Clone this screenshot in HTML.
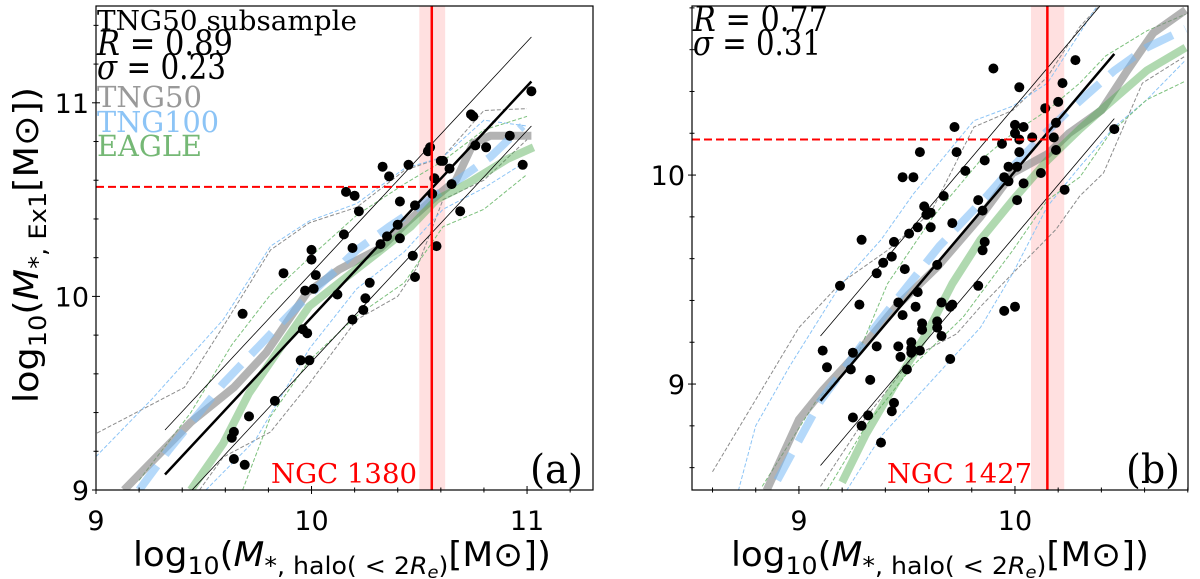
<!DOCTYPE html>
<html><head><meta charset="utf-8">
<style>
html,body{margin:0;padding:0;background:#fff;}
svg{display:block;}
text{font-family:"DejaVu Sans","Liberation Sans",sans-serif;}
.serif{font-family:"DejaVu Serif","Liberation Serif",serif;}
</style></head>
<body>
<svg id="fig" width="1200" height="579" viewBox="0 0 1200 579" xmlns="http://www.w3.org/2000/svg">
<defs>
<clipPath id="clipA"><rect x="96" y="6" width="497" height="484"/></clipPath>
<clipPath id="clipB"><rect x="692" y="6" width="496" height="484"/></clipPath>
</defs>
<g id="panelA"></g>
<g id="panelB"></g>

<text transform="translate(38,245) rotate(-90)" text-anchor="middle" font-size="34" textLength="316" lengthAdjust="spacingAndGlyphs">log<tspan font-size="24" dy="8">10</tspan><tspan dy="-8">(</tspan><tspan font-style="italic">M</tspan><tspan font-size="24" dy="8">*, Ex1</tspan><tspan dy="-8">[M⊙])</tspan></text>
<text x="342" y="566" text-anchor="middle" font-size="34" textLength="418" lengthAdjust="spacingAndGlyphs">log<tspan font-size="24" dy="8">10</tspan><tspan dy="-8">(</tspan><tspan font-style="italic">M</tspan><tspan font-size="24" dy="8">*, halo( &lt; 2</tspan><tspan font-size="24" font-style="italic">R</tspan><tspan font-size="17" font-style="italic" dy="4">e</tspan><tspan font-size="24" dy="-4">)</tspan><tspan dy="-8">[M⊙])</tspan></text>
<text x="940" y="566" text-anchor="middle" font-size="34" textLength="418" lengthAdjust="spacingAndGlyphs">log<tspan font-size="24" dy="8">10</tspan><tspan dy="-8">(</tspan><tspan font-style="italic">M</tspan><tspan font-size="24" dy="8">*, halo( &lt; 2</tspan><tspan font-size="24" font-style="italic">R</tspan><tspan font-size="17" font-style="italic" dy="4">e</tspan><tspan font-size="24" dy="-4">)</tspan><tspan dy="-8">[M⊙])</tspan></text>

<g class="serif">
<text class="serif" x="97" y="30" font-size="27" textLength="260" lengthAdjust="spacingAndGlyphs">TNG50 subsample</text>
<text class="serif" x="97" y="55" font-size="35" textLength="136" lengthAdjust="spacingAndGlyphs"><tspan font-style="italic">R</tspan> = 0.89</text>
<text class="serif" x="97" y="79" font-size="35" textLength="129" lengthAdjust="spacingAndGlyphs"><tspan font-style="italic">σ</tspan> = 0.23</text>
<text class="serif" x="97" y="107" font-size="29" fill="#999999" textLength="105" lengthAdjust="spacingAndGlyphs">TNG50</text>
<text class="serif" x="97" y="132" font-size="29" fill="#8cc4f6" textLength="122" lengthAdjust="spacingAndGlyphs">TNG100</text>
<text class="serif" x="97" y="156" font-size="29" fill="#75b875" textLength="105" lengthAdjust="spacingAndGlyphs">EAGLE</text>
<text class="serif" x="271" y="483" font-size="27" fill="#ff0000" textLength="146" lengthAdjust="spacingAndGlyphs">NGC 1380</text>
<text class="serif" x="530" y="483" font-size="40" textLength="53" lengthAdjust="spacingAndGlyphs">(a)</text>
</g>
<g>
<text class="serif" x="693" y="31" font-size="35" textLength="135" lengthAdjust="spacingAndGlyphs"><tspan font-style="italic">R</tspan> = 0.77</text>
<text class="serif" x="693" y="55" font-size="35" textLength="128" lengthAdjust="spacingAndGlyphs"><tspan font-style="italic">σ</tspan> = 0.31</text>
<text class="serif" x="887" y="483" font-size="27" fill="#ff0000" textLength="145" lengthAdjust="spacingAndGlyphs">NGC 1427</text>
<text class="serif" x="1126" y="483" font-size="40" textLength="54" lengthAdjust="spacingAndGlyphs">(b)</text>
</g>
</svg>
<script>
// ---------- Panel A data ----------
const aPtsX = [11.02,10.74,10.75,10.92,10.76,10.81,10.98,10.55,10.54,10.61,10.60,10.64,10.57,10.65,10.56,10.69,10.58,10.33,10.45,10.36,10.16,10.20,10.22,10.41,10.48,10.40,10.35,10.41,10.32,10.19,10.15,10.00,10.00,10.02,9.97,10.01,10.12,10.27,10.25,10.24,10.19,10.47,10.48,9.87,9.68,9.96,9.98,9.95,9.99,9.83,9.71,9.64,9.63,9.64,9.69];
const aPtsY = [11.06,10.94,10.93,10.83,10.78,10.77,10.68,10.77,10.75,10.70,10.70,10.66,10.61,10.58,10.53,10.44,10.26,10.67,10.68,10.62,10.54,10.52,10.44,10.49,10.47,10.37,10.31,10.30,10.27,10.25,10.32,10.24,10.19,10.11,10.03,10.04,10.01,10.07,9.99,9.93,9.88,10.21,10.10,10.12,9.91,9.83,9.81,9.67,9.67,9.46,9.38,9.30,9.27,9.16,9.13];
const aTng50X = [9.13,9.28,9.44,9.64,9.79,9.98,10.13,10.32,10.44,10.56,10.67,10.75,10.83,11.02];
const aTng50Y = [9.00,9.17,9.35,9.53,9.71,10.02,10.14,10.25,10.38,10.50,10.60,10.79,10.83,10.83];
const aTng100X = [9.20,9.34,9.59,9.90,10.21,10.36,10.52,10.64,10.83,10.98];
const aTng100Y = [9.00,9.21,9.55,9.91,10.24,10.36,10.48,10.57,10.72,10.88];
const aEagleX = [9.44,9.59,9.71,9.84,9.99,10.15,10.30,10.46,10.58,10.67,10.75,10.91,11.03];
const aEagleY = [9.00,9.24,9.50,9.71,9.95,10.09,10.22,10.36,10.50,10.55,10.60,10.71,10.77];
const aTng50HiX = [8.98,9.41,9.61,9.81,9.99,10.21,10.43,10.61,10.80,11.00];
const aTng50HiY = [9.28,9.53,9.88,10.24,10.38,10.46,10.65,10.72,10.96,10.97];
const aTng100HiX = [8.98,9.26,9.59,9.81,9.99,10.21,10.43,10.61,10.80,11.00];
const aTng100HiY = [9.15,9.47,9.88,10.26,10.39,10.48,10.66,10.72,10.91,10.88];
const aEagleHiX = [9.20,9.44,9.63,9.81,9.99,10.21,10.43,10.61,10.80,11.00];
const aEagleHiY = [9.05,9.40,9.75,10.01,10.20,10.42,10.58,10.70,10.86,10.93];
const aTng50LoX = [9.48,9.59,9.81,9.99,10.21,10.40,10.49,10.61,10.80,11.00];
const aTng50LoY = [9.00,9.17,9.30,9.55,9.88,10.00,10.15,10.50,10.60,10.81];
const aTng100LoX = [9.51,9.74,9.99,10.21,10.43,10.61,10.80,11.00];
const aTng100LoY = [9.00,9.26,9.73,10.04,10.23,10.45,10.56,10.70];
const aEagleLoX = [9.68,9.81,9.99,10.21,10.43,10.61,10.80,11.00];
const aEagleLoY = [9.00,9.38,9.67,9.90,10.07,10.36,10.45,10.63];
const aFitX = [9.32,11.02];
const aFitY = [9.08,11.11];
const aFitScatter = 0.23;
const aRef = {x:10.558, xlo:10.50, xhi:10.62, y:10.566};
const aXTicks = [9,10,11];
const aYTicks = [9,10,11];

// ---------- Panel B data ----------
const bPtsX = [10.28,9.90,10.02,10.22,10.14,10.20,10.00,10.04,10.00,10.02,10.08,10.19,10.18,10.19,9.72,9.94,10.02,9.73,9.86,9.56,9.77,9.48,9.53,9.97,10.01,9.95,9.97,10.04,10.12,10.23,10.46,9.67,9.83,10.01,9.85,9.58,9.59,9.61,9.55,9.61,9.71,9.51,9.29,9.44,9.43,9.39,9.36,9.49,9.64,9.86,9.85,9.19,9.83,9.55,9.28,9.46,9.66,9.70,9.71,9.54,9.48,9.95,10.00,9.57,9.57,9.64,9.64,9.66,9.36,9.46,9.52,9.52,9.52,9.56,9.47,9.70,9.11,9.25,9.13,9.24,9.50,9.33,9.44,9.43,9.25,9.32,9.29,9.38];
const bPtsY = [10.55,10.51,10.42,10.44,10.32,10.35,10.24,10.23,10.20,10.17,10.18,10.25,10.18,10.12,10.23,10.15,10.11,10.11,10.07,10.11,10.02,9.99,9.99,10.04,10.04,9.99,9.97,9.96,10.01,9.93,10.22,9.90,9.88,9.88,9.83,9.85,9.81,9.82,9.75,9.75,9.77,9.72,9.69,9.68,9.61,9.58,9.53,9.55,9.57,9.68,9.64,9.47,9.47,9.44,9.38,9.39,9.39,9.37,9.38,9.37,9.33,9.35,9.37,9.29,9.26,9.30,9.27,9.23,9.18,9.18,9.20,9.17,9.15,9.16,9.13,9.12,9.16,9.15,9.08,9.07,9.07,9.02,8.91,8.87,8.84,8.85,8.80,8.72];
const bTng50X = [8.85,9.00,9.11,9.28,9.45,9.64,9.84,9.99,10.15,10.25,10.40,10.52,10.64,10.79];
const bTng50Y = [8.49,8.83,8.97,9.16,9.37,9.56,9.80,10.01,10.10,10.20,10.31,10.50,10.68,10.79];
const bTng100X = [8.90,9.10,9.38,9.65,9.87,9.99,10.12,10.24,10.46,10.61,10.79];
const bTng100Y = [8.54,8.92,9.31,9.66,9.90,10.04,10.18,10.30,10.50,10.61,10.70];
const bEagleX = [9.20,9.31,9.44,9.59,9.71,9.84,9.99,10.15,10.30,10.42,10.61,10.79];
const bEagleY = [8.53,8.76,8.99,9.24,9.48,9.69,9.88,10.07,10.22,10.33,10.50,10.61];
const bTng50HiX = [8.60,9.00,9.19,9.41,9.61,9.81,9.99,10.15,10.30,10.39];
const bTng50HiY = [8.58,9.27,9.48,9.64,9.82,10.23,10.31,10.47,10.71,10.81];
const bTng100HiX = [8.72,8.80,8.96,9.19,9.38,9.53,9.81,9.99,10.15,10.30,10.38];
const bTng100HiY = [8.49,8.80,9.09,9.47,9.69,9.91,10.26,10.33,10.44,10.68,10.81];
const bEagleHiX = [8.83,9.08,9.26,9.41,9.62,9.84,9.99,10.15,10.30,10.42,10.61,10.79];
const bEagleHiY = [8.51,8.92,9.11,9.48,9.80,10.07,10.20,10.31,10.44,10.57,10.69,10.77];
const bTng50LoX = [9.10,9.31,9.53,9.73,9.84,9.99,10.19,10.30,10.41,10.59,10.79];
const bTng50LoY = [8.51,8.84,9.13,9.24,9.37,9.53,9.74,9.90,10.01,10.44,10.57];
const bTng100LoX = [9.22,9.38,9.68,9.84,9.99,10.15,10.30,10.46,10.61,10.79];
const bTng100LoY = [8.49,8.75,9.09,9.27,9.53,9.85,10.04,10.23,10.36,10.55];
const bEagleLoX = [9.13,9.31,9.53,9.76,9.99,10.15,10.30,10.44,10.61,10.79];
const bEagleLoY = [8.49,8.80,9.09,9.32,9.64,9.88,9.99,10.20,10.36,10.45];
const bFitX = [9.10,10.46];
const bFitY = [8.92,10.58];
const bFitScatter = 0.31;
const bRef = {x:10.15, xlo:10.074, xhi:10.228, y:10.17};
const bXTicks = [9,10];
const bYTicks = [9,10];

const NS = "http://www.w3.org/2000/svg";
function mk(parent, tag, attrs){
  const e = document.createElementNS(NS, tag);
  for (const k in attrs) e.setAttribute(k, attrs[k]);
  parent.appendChild(e);
  return e;
}

function drawPanel(g, cfg){
  const sx = v => cfg.L + (v - cfg.x0) / (cfg.x1 - cfg.x0) * (cfg.R - cfg.L);
  const sy = v => cfg.B - (v - cfg.y0) / (cfg.y1 - cfg.y0) * (cfg.B - cfg.T);
  const path = (xs, ys) => xs.map((x,i)=>(i?'L':'M')+sx(x).toFixed(1)+','+sy(ys[i]).toFixed(1)).join(' ');
  const plot = mk(g, 'g', {'clip-path':'url(#'+cfg.clip+')'});
  
  

  const band = mk(plot, 'rect', {x:sx(cfg.ref.xlo), y:cfg.T, width:sx(cfg.ref.xhi)-sx(cfg.ref.xlo), height:cfg.B-cfg.T, fill:'rgba(255,0,0,0.12)'});
  
  

  const thin = [
    [cfg.d.t50hx, cfg.d.t50hy, '#8c8c8c', 'tng50-upper-percentile'],
    [cfg.d.t100hx, cfg.d.t100hy, '#8cc4f6', 'tng100-upper-percentile'],
    [cfg.d.eghx, cfg.d.eghy, '#7cc07c', 'eagle-upper-percentile'],
    [cfg.d.t50lx, cfg.d.t50ly, '#8c8c8c', 'tng50-lower-percentile'],
    [cfg.d.t100lx, cfg.d.t100ly, '#8cc4f6', 'tng100-lower-percentile'],
    [cfg.d.eglx, cfg.d.egly, '#7cc07c', 'eagle-lower-percentile']
  ];
  thin.forEach(t=>{
    const p = mk(plot, 'path', {d:path(t[0],t[1]), fill:'none', stroke:t[2], 'stroke-width':1, 'stroke-dasharray':'4,2'});
    
    
  });

  const g50 = mk(plot, 'path', {d:path(cfg.d.t50x,cfg.d.t50y), fill:'none', stroke:'rgba(128,128,128,0.6)', 'stroke-width':8, 'stroke-linejoin':'round'});
  
  
  const g100 = mk(plot, 'path', {d:path(cfg.d.t100x,cfg.d.t100y), fill:'none', stroke:'rgba(120,185,245,0.55)', 'stroke-width':8, 'stroke-dasharray':'30,14'});
  
  
  const geg = mk(plot, 'path', {d:path(cfg.d.egx,cfg.d.egy), fill:'none', stroke:'rgba(80,170,80,0.45)', 'stroke-width':8, 'stroke-linejoin':'round'});
  
  

  const fx = cfg.fitX, fy = cfg.fitY, s = cfg.scatter;
  const up = mk(plot, 'path', {d:path(fx, fy.map(v=>v+s)), fill:'none', stroke:'#000', 'stroke-width':0.8});
  
  
  const lo = mk(plot, 'path', {d:path(fx, fy.map(v=>v-s)), fill:'none', stroke:'#000', 'stroke-width':0.8});
  
  

  cfg.px.forEach((x,i)=>{
    const c = mk(plot, 'circle', {cx:sx(x).toFixed(1), cy:sy(cfg.py[i]).toFixed(1), r:5, fill:'#000'});
    
    
  });

  const fit = mk(plot, 'path', {d:path(fx, fy), fill:'none', stroke:'#000', 'stroke-width':2.5});
  
  

  const vl = mk(plot, 'line', {x1:sx(cfg.ref.x), x2:sx(cfg.ref.x), y1:cfg.T, y2:cfg.B, stroke:'#ff0000', 'stroke-width':2.5});
  
  
  const hl = mk(plot, 'line', {x1:cfg.L, x2:sx(cfg.ref.x), y1:sy(cfg.ref.y), y2:sy(cfg.ref.y), stroke:'#ff0000', 'stroke-width':2, 'stroke-dasharray':'8,4'});
  
  

  const fr = mk(g, 'rect', {x:cfg.L, y:cfg.T, width:cfg.R-cfg.L, height:cfg.B-cfg.T, fill:'none', stroke:'#000', 'stroke-width':1.2});
  
  

  for (let v = Math.ceil(cfg.x0*5)/5; v <= cfg.x1+1e-9; v += 0.2){
    const vv = Math.round(v*5)/5;
    const major = Math.abs(vv-Math.round(vv))<1e-6;
    const t = mk(g, 'line', {x1:sx(vv), x2:sx(vv), y1:cfg.B-(major?4:2.5), y2:cfg.B+(major?4:2.5), stroke:'#000', 'stroke-width':1});
    
    
  }
  for (let v = Math.ceil(cfg.y0*5)/5; v <= cfg.y1+1e-9; v += 0.2){
    const vv = Math.round(v*5)/5;
    const major = Math.abs(vv-Math.round(vv))<1e-6;
    const t = mk(g, 'line', {x1:cfg.L-(major?4:2.5), x2:cfg.L+(major?4:2.5), y1:sy(vv), y2:sy(vv), stroke:'#000', 'stroke-width':1});
    
    
  }
  cfg.xt.forEach(v=>{
    const t = mk(g, 'text', {x:sx(v), y:530, 'text-anchor':'middle', 'font-size':27});
    t.textContent = String(v);
    
    
  });
  cfg.yt.forEach(v=>{
    const t = mk(g, 'text', {x:cfg.L-7, y:sy(v)+10, 'text-anchor':'end', 'font-size':27});
    t.textContent = String(v);
    
    
  });
}

drawPanel(document.getElementById('panelA'), {
  L:96, R:593, T:6, B:490, x0:9, x1:11.306, y0:9, y1:11.5, clip:'clipA',
  px:aPtsX, py:aPtsY, fitX:aFitX, fitY:aFitY, scatter:aFitScatter, ref:aRef, xt:aXTicks, yt:aYTicks,
  d:{t50x:aTng50X,t50y:aTng50Y,t100x:aTng100X,t100y:aTng100Y,egx:aEagleX,egy:aEagleY,
     t50hx:aTng50HiX,t50hy:aTng50HiY,t100hx:aTng100HiX,t100hy:aTng100HiY,eghx:aEagleHiX,eghy:aEagleHiY,
     t50lx:aTng50LoX,t50ly:aTng50LoY,t100lx:aTng100LoX,t100ly:aTng100LoY,eglx:aEagleLoX,egly:aEagleLoY}
});
drawPanel(document.getElementById('panelB'), {
  L:692, R:1188, T:6, B:490, x0:8.505, x1:10.801, y0:8.493, y1:10.809, clip:'clipB',
  px:bPtsX, py:bPtsY, fitX:bFitX, fitY:bFitY, scatter:bFitScatter, ref:bRef, xt:bXTicks, yt:bYTicks,
  d:{t50x:bTng50X,t50y:bTng50Y,t100x:bTng100X,t100y:bTng100Y,egx:bEagleX,egy:bEagleY,
     t50hx:bTng50HiX,t50hy:bTng50HiY,t100hx:bTng100HiX,t100hy:bTng100HiY,eghx:bEagleHiX,eghy:bEagleHiY,
     t50lx:bTng50LoX,t50ly:bTng50LoY,t100lx:bTng100LoX,t100ly:bTng100LoY,eglx:bEagleLoX,egly:bEagleLoY}
});
</script>
</body></html>
